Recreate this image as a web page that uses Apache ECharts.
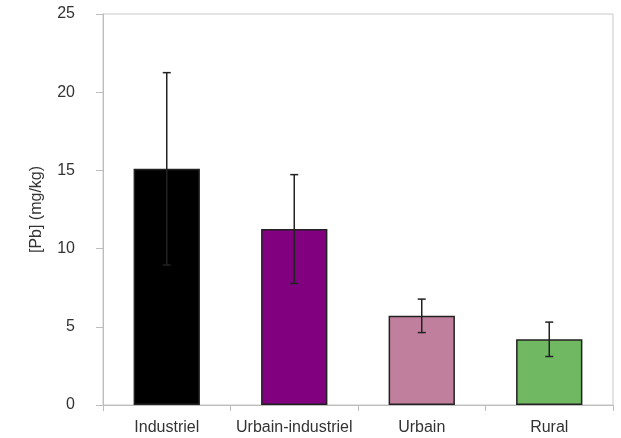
<!DOCTYPE html>
<html>
<head>
<meta charset="utf-8">
<script src="https://cdn.jsdelivr.net/npm/echarts@6/dist/echarts.min.js"></script>
<style>
  html, body { margin: 0; padding: 0; background: #fff; }
  #chart { width: 621px; height: 438px; }
</style>
</head>
<body>
<div id="chart"></div>
<script>
// Lead concentration by site type, mean with standard deviation
const categories = ['Industriel', 'Urbain-industriel', 'Urbain', 'Rural'];
const means = [15.1, 11.25, 5.7, 4.2];
const stdDevs = [6.15, 3.48, 1.07, 1.1];
const barColors = ['#000000', '#800080', '#c17f9e', '#70b962'];
const yTicks = [0, 5, 10, 15, 20, 25];

const FONT = 'Liberation Sans, Arial, sans-serif';
const chart = echarts.init(document.getElementById('chart'));

const errorData = categories.map((c, i) => [i, means[i] - stdDevs[i], means[i] + stdDevs[i]]);

chart.setOption({
  animation: false,
  grid: {
    left: 103, right: 8, top: 14, bottom: 33,
    show: true, borderColor: '#c8c8c8', borderWidth: 1
  },
  xAxis: {
    type: 'category',
    data: categories,
    axisLine: { lineStyle: { color: '#bdbdbd', width: 1 } },
    axisTick: { show: true, interval: 0, alignWithLabel: false, length: 6, lineStyle: { color: '#bdbdbd' } },
    axisLabel: { interval: 0, hideOverlap: false, color: '#333', fontSize: 16, fontFamily: FONT, margin: 15 }
  },
  yAxis: {
    type: 'value',
    min: yTicks[0],
    max: yTicks[yTicks.length - 1],
    interval: 5,
    name: '[Pb] (mg/kg)',
    nameLocation: 'middle',
    nameGap: 58,
    nameRotate: 90,
    nameTextStyle: { color: '#333', fontSize: 16, fontFamily: FONT },
    axisLine: { show: true, lineStyle: { color: '#bdbdbd', width: 1 } },
    axisTick: { show: true, length: 7, lineStyle: { color: '#bdbdbd' } },
    axisLabel: { color: '#333', fontSize: 16, fontFamily: FONT, margin: 28 },
    splitLine: { show: false }
  },
  series: [
    {
      type: 'bar',
      barWidth: '52%',
      data: means.map((v, i) => ({
        value: v,
        itemStyle: { color: barColors[i], borderColor: '#222', borderWidth: 1.5 }
      })),
      z: 2
    },
    {
      type: 'custom',
      data: errorData,
      z: 3,
      renderItem: function (params, api) {
        const x = api.value(0);
        const lo = api.coord([x, api.value(1)]);
        const hi = api.coord([x, api.value(2)]);
        const cap = 4;
        const style = { stroke: '#222', lineWidth: 1.5 };
        return {
          type: 'group',
          children: [
            { type: 'line', shape: { x1: lo[0], y1: lo[1], x2: hi[0], y2: hi[1] }, style: style },
            { type: 'line', shape: { x1: hi[0] - cap, y1: hi[1], x2: hi[0] + cap, y2: hi[1] }, style: style },
            { type: 'line', shape: { x1: lo[0] - cap, y1: lo[1], x2: lo[0] + cap, y2: lo[1] }, style: style }
          ]
        };
      }
    }
  ]
});
</script>
</body>
</html>
